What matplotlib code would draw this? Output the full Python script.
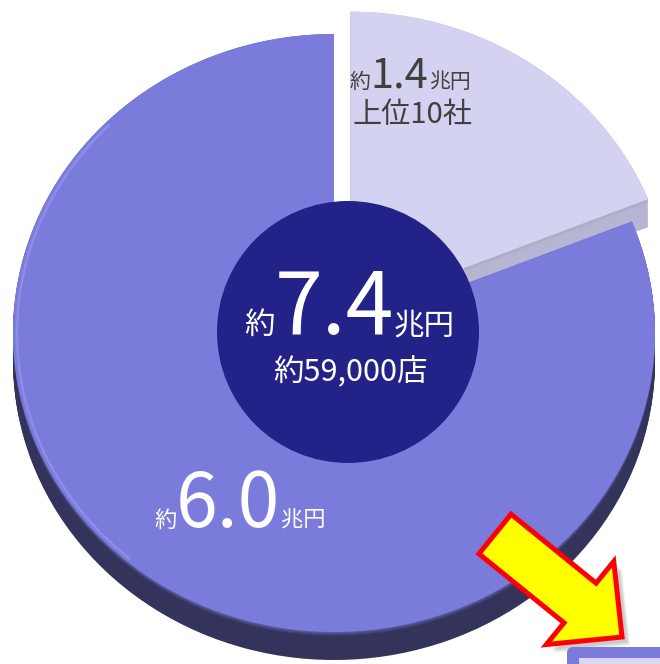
import numpy as np
import matplotlib
matplotlib.use('Agg')
import matplotlib.pyplot as plt
from matplotlib.patches import Circle, FancyArrow, FancyBboxPatch, Arc
from matplotlib.colors import to_rgb

FONT = ['Noto Sans CJK JP', 'DejaVu Sans']
plt.rcParams['font.family'] = FONT

# 市場規模（兆円）
segments = ['上位10社', 'その他']
values = [1.4, 6.0]
total_value = 7.4
store_count = '59,000'

top_colors = ['#d3d3f1', '#7b7bdc']
side_colors = ['#b6b6d4', '#33335b']

W, H = 660, 664
fig = plt.figure(figsize=(W / 100, H / 100), dpi=100)

# 円グラフ用（楕円に見せるため縦横比は自由）
cx, cy, rx, ry = 334, 333, 321, 299
depth = 28
explode = 0.09
pax = fig.add_axes([0, 0, 1, 1])

# 側面（厚み）を下から重ねる
n_layers = 24
for i in range(n_layers + 1):
    d = depth * (1 - i / n_layers)
    cols = []
    for k in range(2):
        c0 = np.array(to_rgb(side_colors[k]))
        c1 = np.array(to_rgb(top_colors[k])) * 0.8
        mix = c0 if d > 5 else c0 + (c1 - c0) * (1 - d / 5)
        cols.append(tuple(mix))
    pax.pie(values, colors=cols, startangle=90, counterclock=False,
            explode=[explode, 0], center=(0, -d / ry),
            wedgeprops=dict(linewidth=0))

pax.pie(values, colors=top_colors, startangle=90, counterclock=False,
        explode=[explode, 0], wedgeprops=dict(linewidth=0))
pax.set_aspect('auto')
pax.set_xlim(-cx / rx, (W - cx) / rx)
pax.set_ylim(-(H - cy) / ry, cy / ry)
pax.axis('off')

# 左側のハイライト
pax.add_patch(Arc((0, 0), 1.975, 1.975, theta1=135, theta2=230,
                  color='#9a9af0', lw=1.8, alpha=0.6))

# 文字・装飾用（ピクセル座標）
ax = fig.add_axes([0, 0, 1, 1])
ax.set_xlim(0, W)
ax.set_ylim(H, 0)
ax.axis('off')
ax.patch.set_alpha(0)

ax.add_patch(Circle((348, 332), 131, color='#222288', lw=0))

renderer = fig.canvas.get_renderer()


def put_runs(x, y, parts, color):
    for s, size in parts:
        t = ax.text(x, y, s, fontsize=size, color=color, ha='left',
                    va='baseline', family=FONT)
        x += t.get_window_extent(renderer).width


put_runs(244, 334, [('約', 22), (f'{total_value:.1f}', 62), ('兆円', 22)], 'white')
ax.text(350, 381, f'約{store_count}店', fontsize=22, color='white',
        ha='center', va='baseline', family=FONT)

put_runs(350, 88, [('約', 15), (f'{values[0]:.1f}', 30), ('兆円', 15)], '#404040')
ax.text(353, 123, segments[0], fontsize=21, color='#404040',
        ha='left', va='baseline', family=FONT)

put_runs(154, 527, [('約', 16), (f'{values[1]:.1f}', 54), ('兆円', 16)], 'white')

# 矢印（影つき）
arrow_kw = dict(width=51, head_width=107, head_length=54, length_includes_head=True)
for k in range(4):
    ax.add_patch(FancyArrow(495 + 5 + k, 534 + 5 + k, 127, 103, fc='#808080',
                            ec='none', alpha=0.12, **arrow_kw))
ax.add_patch(FancyArrow(495, 534, 127, 103, fc='#ffff00', ec='#ff0000',
                        lw=3.6, joinstyle='miter', **arrow_kw))

# 右下の枠
ax.add_patch(FancyBboxPatch((567, 647), 120, 60, boxstyle='round,pad=0,rounding_size=6',
                            fc='#7b7bdc', ec='none'))
ax.add_patch(FancyBboxPatch((579, 658), 110, 60, boxstyle='square,pad=0',
                            fc='#d8d8f2', ec='none'))

fig.savefig('out.png', dpi=100)
